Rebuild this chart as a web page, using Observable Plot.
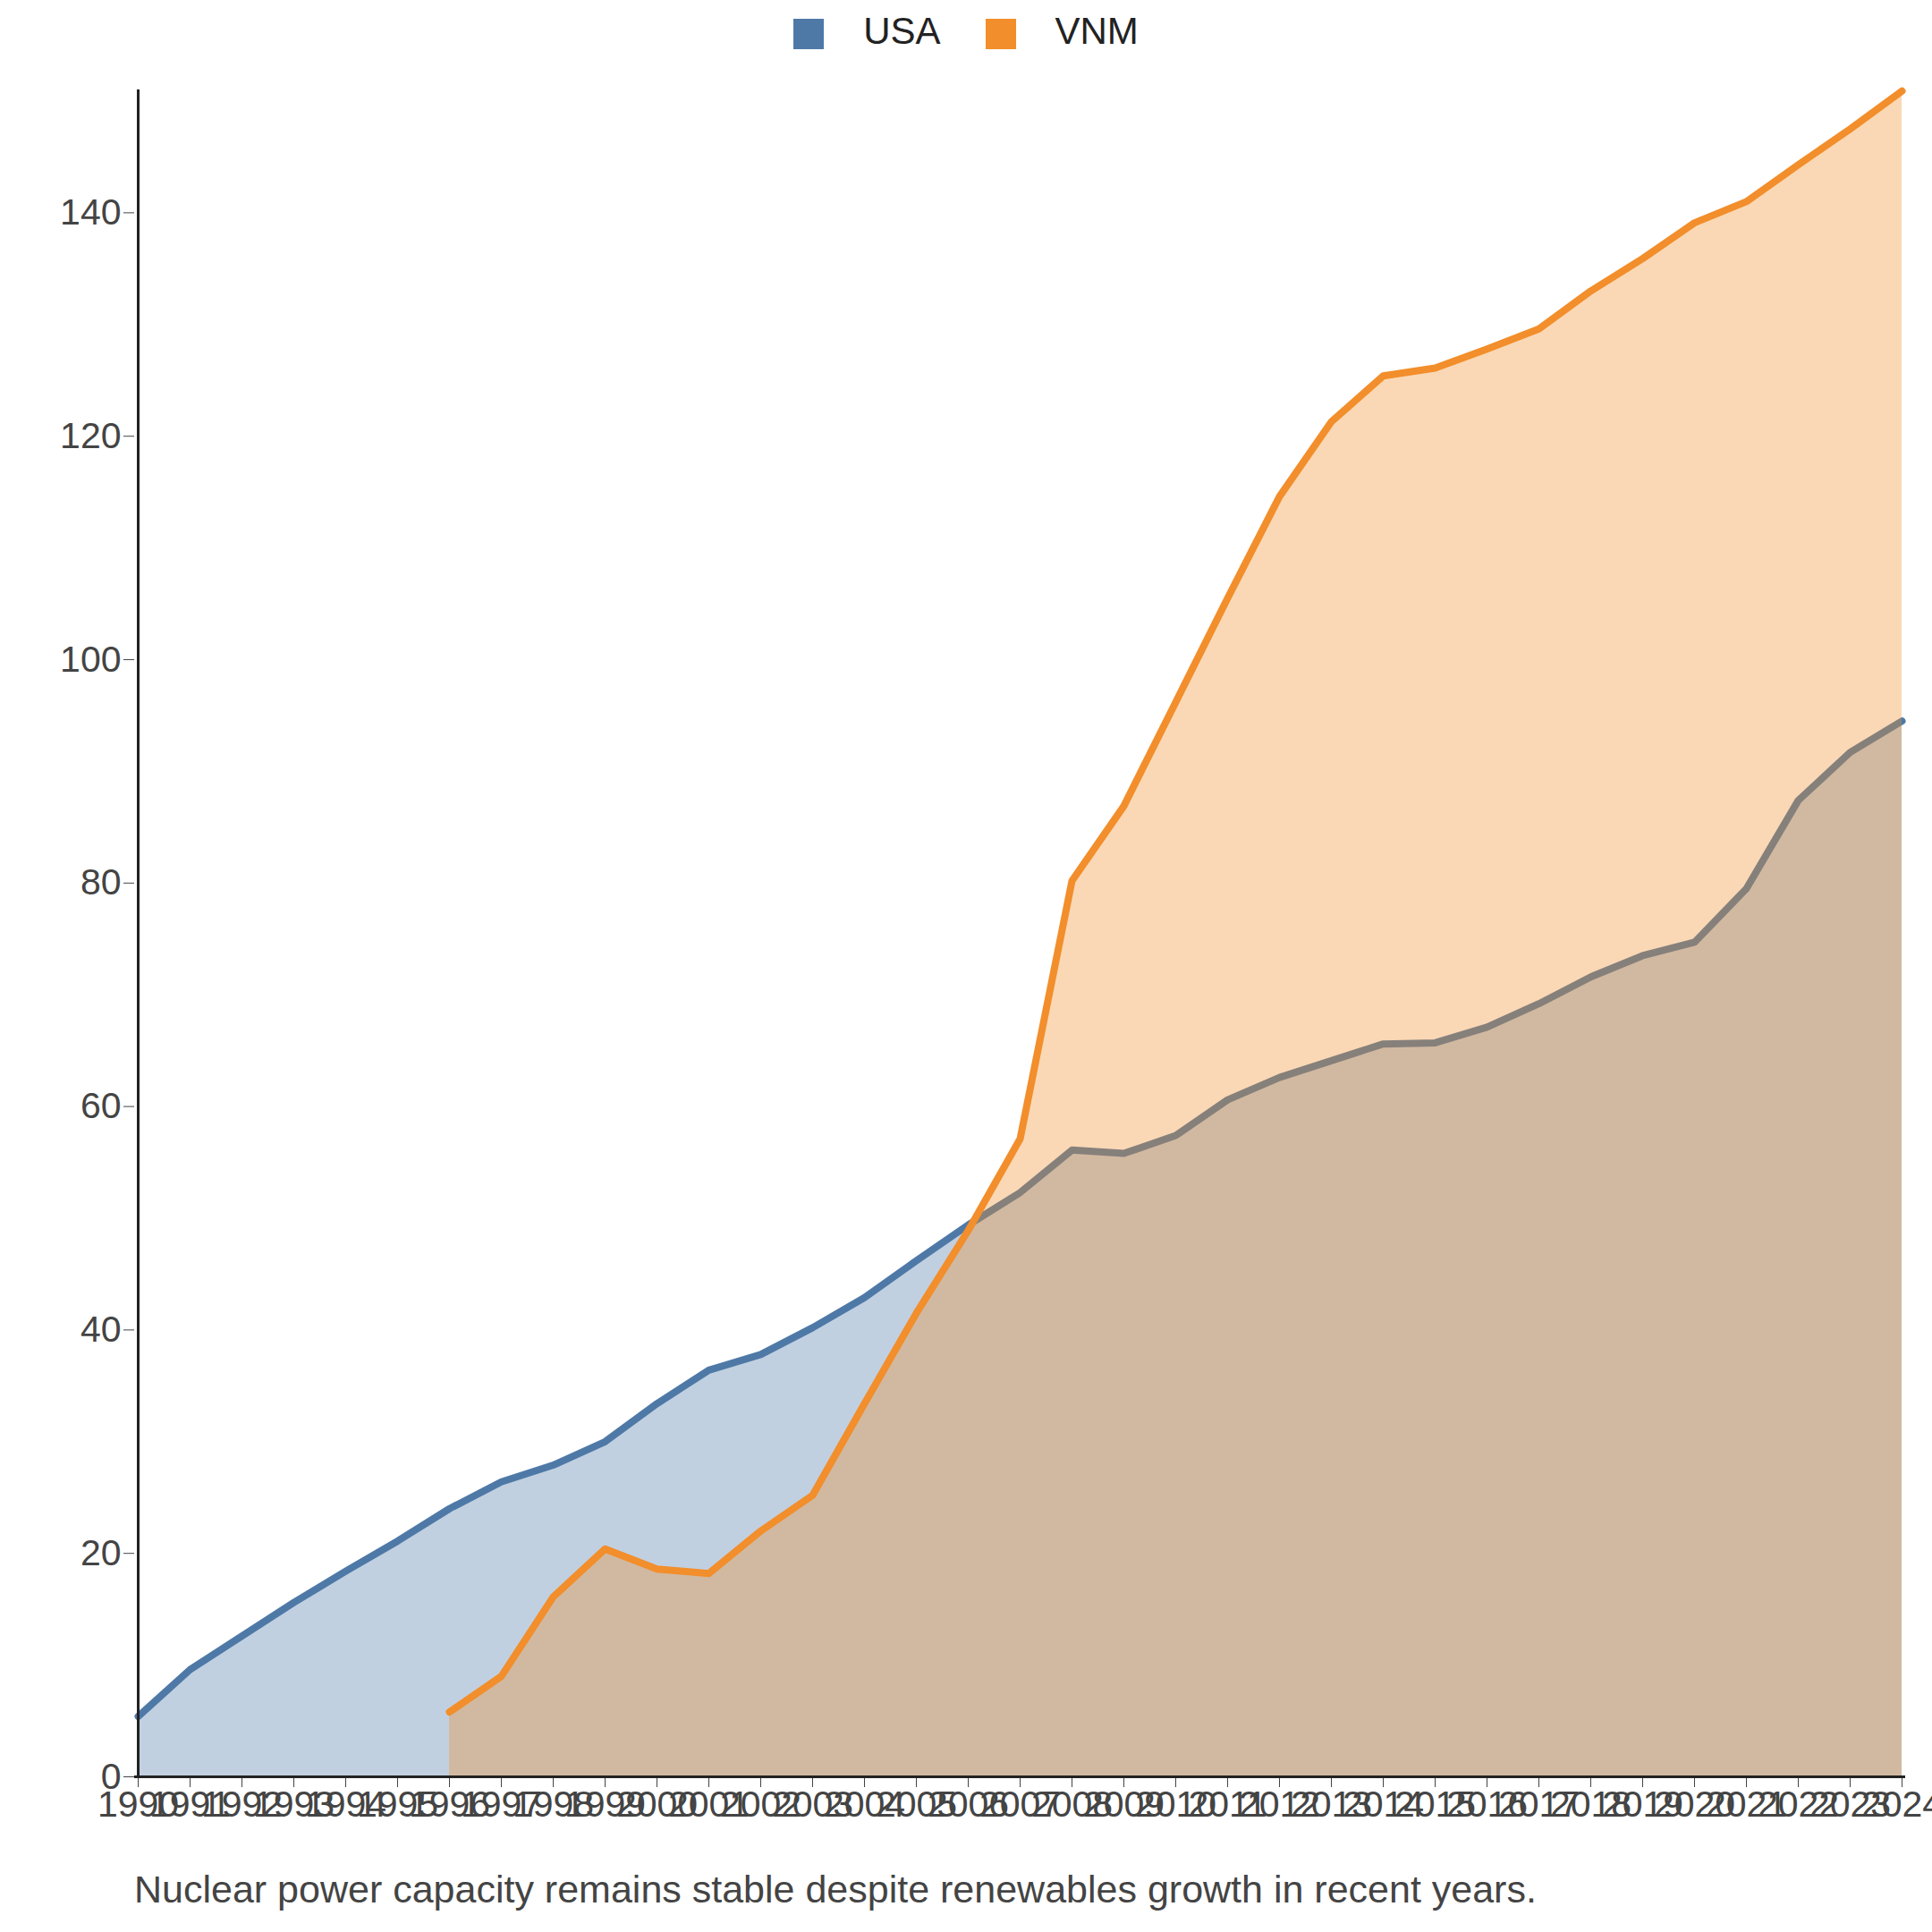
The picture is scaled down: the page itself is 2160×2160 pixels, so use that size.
<!DOCTYPE html>
<html><head><meta charset="utf-8">
<script src="https://cdn.jsdelivr.net/npm/d3@7"></script>
<script src="https://cdn.jsdelivr.net/npm/@observablehq/plot@0.6"></script>
<style>
body{margin:0;background:#fff;font-family:"Liberation Sans",Arial,sans-serif;}
#wrap{width:2160px;}
#legend{height:70px;display:flex;justify-content:center;align-items:center;gap:30px;font-size:42px;color:#222;}
.sw{display:inline-block;width:34px;height:34px;margin-right:44px;vertical-align:middle;}
#cap{font-size:43px;color:#444;margin:22px 0 0 150px;}
</style></head><body>
<div id="wrap">
<div id="legend"><span><span class="sw" style="background:#4e79a7"></span>USA</span><span style="margin-left:20px"><span class="sw" style="background:#f28e2b"></span>VNM</span></div>
<div id="chart"></div>
<div id="cap">Nuclear power capacity remains stable despite renewables growth in recent years.</div>
</div>
<script>
const usaYears = d3.range(1990, 2025).map(String);
const usaValues = [5.4,9.6,12.6,15.6,18.4,21.1,24.0,26.4,27.9,30.0,33.4,36.4,37.8,40.2,42.9,46.2,49.4,52.3,56.1,55.8,57.4,60.6,62.6,64.1,65.6,65.7,67.1,69.2,71.6,73.5,74.7,79.5,87.4,91.7,94.5];
const vnmYears = d3.range(1996, 2025).map(String);
const vnmValues = [5.8,9.0,16.1,20.4,18.6,18.2,22.0,25.2,33.4,41.5,48.9,57.1,80.2,86.9,96.2,105.5,114.6,121.3,125.4,126.1,127.8,129.6,133.0,135.9,139.1,141.0,144.3,147.5,150.9];
const usa = usaYears.map((y,i)=>({year:y,value:usaValues[i]}));
const vnm = vnmYears.map((y,i)=>({year:y,value:vnmValues[i]}));
const plot = Plot.plot({
  width:2160, height:1996,
  marginLeft:150, marginRight:30, marginTop:30, marginBottom:80,
  style:{fontSize:"41px", fontFamily:"Liberation Sans, Arial, sans-serif", color:"#444"},
  x:{type:"point", domain:usaYears, padding:0, label:null, tickSize:12},
  y:{domain:[0,151], ticks:[0,20,40,60,80,100,120,140], label:null, tickSize:12},
  marks:[
    Plot.areaY(usa,{x:"year",y:"value",fill:"#4e79a7",fillOpacity:0.35}),
    Plot.lineY(usa,{x:"year",y:"value",stroke:"#4e79a7",strokeWidth:8}),
    Plot.areaY(vnm,{x:"year",y:"value",fill:"#f28e2b",fillOpacity:0.35}),
    Plot.lineY(vnm,{x:"year",y:"value",stroke:"#f28e2b",strokeWidth:8}),
    Plot.ruleY([0],{stroke:"#222",strokeWidth:3}),
    Plot.ruleX(["1990"],{stroke:"#222",strokeWidth:3})
  ]
});
document.getElementById("chart").appendChild(plot);
</script>
</body></html>
